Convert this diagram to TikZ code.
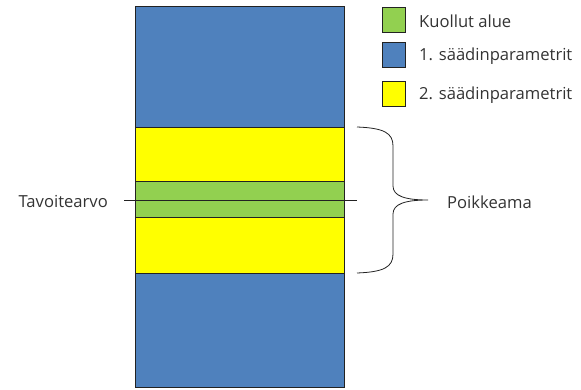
\documentclass[tikz,border=0pt]{standalone}
\usepackage{fontspec}
\setmainfont{Open Sans}
\definecolor{bandblue}{HTML}{4F81BD}
\definecolor{bandgreen}{HTML}{92D050}
\definecolor{bandyellow}{HTML}{FFFF00}
\definecolor{inkgray}{HTML}{333333}
\definecolor{edge}{HTML}{222222}
\tikzset{
  band/.style={draw=edge, line width=1pt},
  keybox/.style={draw=edge, line width=1pt, minimum width=23pt, minimum height=25pt, inner sep=0pt},
  label/.style={text=inkgray, font=\fontsize{16.6}{20}\selectfont, inner sep=0pt},
  guide/.style={draw=edge, line width=0.8pt},
}
\begin{document}
\begin{tikzpicture}[x=1pt, y=-1pt]
\useasboundingbox (0,0) rectangle (581,390);
% stacked bands of the column
\filldraw[band, fill=bandblue]   (135,7)   rectangle (344,128);
\filldraw[band, fill=bandyellow] (135,128) rectangle (344,182);
\filldraw[band, fill=bandgreen]  (135,182) rectangle (344,218);
\filldraw[band, fill=bandyellow] (135,218) rectangle (344,273);
\filldraw[band, fill=bandblue]   (135,273) rectangle (344,387);
% target line
\coordinate (tl) at (124,200);
\coordinate (tr) at (357,200);
\draw[guide] (tl) -- (tr);
\node[label, anchor=east] (target) at (108,201) {Tavoitearvo};
% brace over the deviation range
\coordinate (btop) at (357,127);
\coordinate (btip) at (428,200);
\coordinate (bbot) at (357,273);
\draw[guide] (btop) .. controls (384,128) and (393,133) .. (393,146)
  -- (393,186) .. controls (393,196) and (405,200) .. (btip)
  .. controls (405,200) and (393,204) .. (393,214)
  -- (393,254) .. controls (393,267) and (384,272) .. (bbot);
\node[label, anchor=west] (dev) at (447,202) {Poikkeama};
% legend
\node[keybox, fill=bandgreen]  (kg) at (393.5,20.5) {};
\node[keybox, fill=bandblue]   (kb) at (393.5,55.5) {};
\node[keybox, fill=bandyellow] (ky) at (393.5,94.5) {};
\node[label, anchor=west] (lg) at (419,21) {Kuollut alue};
\node[label, anchor=west] (lb) at (419,56) {1. säädinparametrit};
\node[label, anchor=west] (ly) at (419,95) {2. säädinparametrit};
\end{tikzpicture}
\end{document}
